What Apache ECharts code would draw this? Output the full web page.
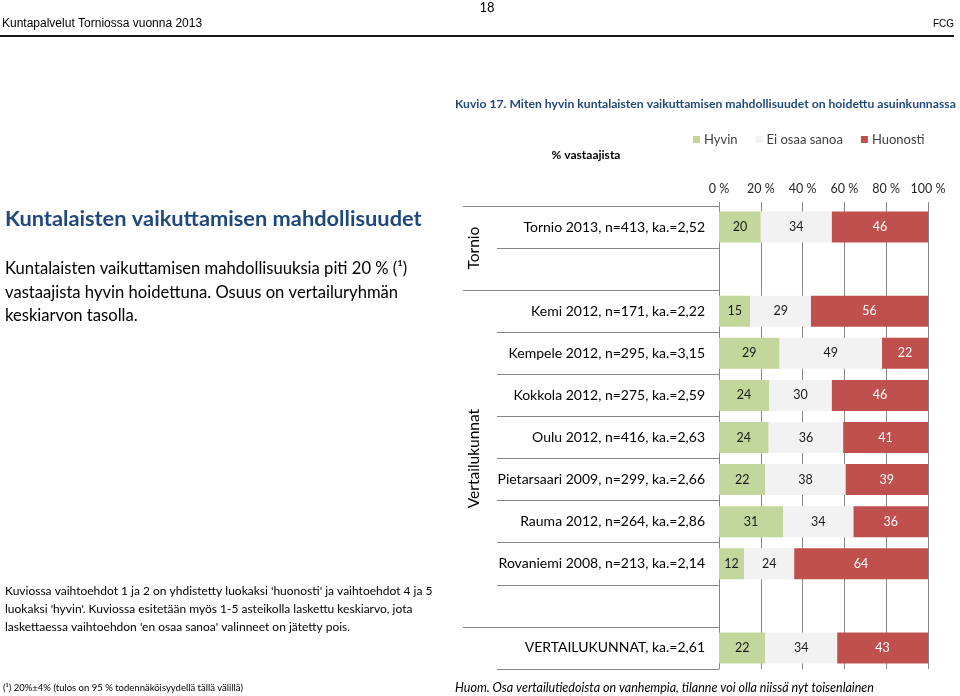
<!DOCTYPE html>
<html>
<head>
<meta charset="utf-8">
<script src="https://cdn.jsdelivr.net/npm/echarts@6/dist/echarts.min.js"></script>
<style>
html,body{margin:0;padding:0;background:#fff;}
#chart{width:960px;height:696px;}
</style>
</head>
<body>
<div id="chart"></div>
<script>
// ---- data ----
const categories = [
  'Tornio 2013, n=413, ka.=2,52', '',
  'Kemi 2012, n=171, ka.=2,22', 'Kempele 2012, n=295, ka.=3,15',
  'Kokkola 2012, n=275, ka.=2,59', 'Oulu 2012, n=416, ka.=2,63',
  'Pietarsaari 2009, n=299, ka.=2,66', 'Rauma 2012, n=264, ka.=2,86',
  'Rovaniemi 2008, n=213, ka.=2,14', ' ', 'VERTAILUKUNNAT, ka.=2,61'
];
const seriesNames = ['Hyvin', 'Ei osaa sanoa', 'Huonosti'];
const hyvin    = [20, null, 15, 29, 24, 24, 22, 31, 12, null, 22];
const eiOsaa   = [34, null, 29, 49, 30, 36, 38, 34, 24, null, 34];
const huonosti = [46, null, 56, 22, 46, 41, 39, 36, 64, null, 43];
const tickLabels = ['0 %', '20 %', '40 %', '60 %', '80 %', '100 %'];
const groups = [
  { name: 'Tornio', start: 0, end: 2 },
  { name: 'Vertailukunnat', start: 2, end: 10 }
];

// ---- build ----
const FONT = 'Lato';
const raw = [hyvin, eiOsaa, huonosti];
const colors = ['#c3d69b', '#f2f2f2', '#c0504d'];
const labelColors = ['#1a1a1a', '#1a1a1a', '#ffffff'];
const totals = categories.map((c, i) => raw.reduce((s, a) => s + (a[i] || 0), 0));

const series = raw.map((arr, k) => ({
  name: seriesNames[k],
  type: 'bar',
  stack: 'all',
  yAxisIndex: 0,
  barWidth: 31,
  itemStyle: { color: colors[k] },
  label: {
    show: true,
    position: 'inside',
    color: labelColors[k],
    fontFamily: FONT,
    fontSize: 12.5,
    formatter: p => p.data && p.data.raw != null ? String(p.data.raw) : ''
  },
  data: arr.map((v, i) => v == null ? { value: null, raw: null } : { value: v / totals[i] * 100, raw: v })
}));

const groupTicks = [];
groups.forEach(g => { groupTicks.push(g.start); groupTicks.push(g.end); });
const groupMid = groups.map(g => (g.start + g.end) / 2);

const option = {
  animation: false,
  backgroundColor: '#ffffff',
  legend: {
    data: seriesNames,
    left: 688,
    top: 128,
    icon: 'rect',
    itemWidth: 7,
    itemHeight: 7,
    itemGap: 18,
    textStyle: { fontFamily: FONT, fontSize: 13, color: '#404040', padding: [0, 0, 0, -1] }
  },
  grid: { left: 719, right: 32, top: 206, bottom: 27, containLabel: false },
  xAxis: {
    type: 'value',
    position: 'top',
    min: 0, max: 100, interval: 20,
    axisLine: { show: false },
    axisTick: { show: true, length: 4, lineStyle: { color: '#868686' } },
    splitLine: { show: true, lineStyle: { color: '#868686', width: 1 } },
    axisLabel: {
      margin: 11,
      fontFamily: FONT, fontSize: 12.5, color: '#262626',
      formatter: v => tickLabels[Math.round(v / 20)]
    }
  },
  yAxis: [
    {
      type: 'category',
      data: categories,
      inverse: true,
      position: 'left',
      axisLine: { show: true, lineStyle: { color: '#868686' } },
      axisTick: { show: true, length: 222, lineStyle: { color: '#868686' } },
      axisLabel: { margin: 14, fontFamily: FONT, fontSize: 14, color: '#000', interval: 0 }
    },
    {
      type: 'value',
      inverse: true,
      min: 0, max: categories.length,
      position: 'left',
      axisLine: { show: false },
      splitLine: { show: false },
      axisTick: { show: true, length: 256, customValues: groupTicks, lineStyle: { color: '#868686' } },
      axisLabel: {
        show: true,
        customValues: groupMid,
        rotate: 90,
        margin: 237,
        fontFamily: FONT, fontSize: 15.5, color: '#000',
        formatter: v => { const g = groups.find(g => (g.start + g.end) / 2 === v); return g ? g.name : ''; }
      }
    }
  ],
  series: series,
  graphic: [
    { type: 'text', x: 487, y: 8, style: { text: '18', fontFamily: FONT, fontSize: 13, fill: '#000', align: 'center', verticalAlign: 'middle' } },
    { type: 'text', x: 2, y: 24, style: { text: 'Kuntapalvelut Torniossa vuonna 2013', fontFamily: 'Liberation Sans Narrow, Arial Narrow, sans-serif', fontSize: 12, fill: '#000', verticalAlign: 'middle' } },
    { type: 'text', x: 954, y: 24, style: { text: 'FCG', fontFamily: 'Liberation Sans Narrow, Arial Narrow, sans-serif', fontSize: 10, fill: '#000', align: 'right', verticalAlign: 'middle' } },
    { type: 'line', shape: { x1: 0, y1: 36, x2: 954, y2: 36 }, style: { stroke: '#1a1a1a', lineWidth: 2 } },
    { type: 'text', x: 455, y: 104, style: { text: 'Kuvio 17. Miten hyvin kuntalaisten vaikuttamisen mahdollisuudet on hoidettu asuinkunnassa', fontFamily: FONT, fontWeight: 'bold', fontSize: 12.2, fill: '#1f497d', verticalAlign: 'middle' } },
    { type: 'text', x: 586, y: 155, style: { text: '% vastaajista', fontFamily: FONT, fontWeight: 'bold', fontSize: 12, fill: '#000', align: 'center', verticalAlign: 'middle' } },
    { type: 'text', x: 5, y: 219, style: { text: 'Kuntalaisten vaikuttamisen mahdollisuudet', fontFamily: FONT, fontWeight: 'bold', fontSize: 21.8, fill: '#1f497d', verticalAlign: 'middle' } },
    { type: 'text', x: 5, y: 257, style: { text: 'Kuntalaisten vaikuttamisen mahdollisuuksia piti 20 % (\u00b9)\nvastaajista hyvin hoidettuna. Osuus on vertailuryhmän\nkeskiarvon tasolla.', fontFamily: FONT, fontSize: 16.6, lineHeight: 23.5, fill: '#000', verticalAlign: 'top' } },
    { type: 'text', x: 5, y: 582, style: { text: "Kuviossa vaihtoehdot 1 ja 2 on yhdistetty luokaksi 'huonosti' ja vaihtoehdot 4 ja 5\nluokaksi 'hyvin'. Kuviossa esitetään myös 1-5 asteikolla laskettu keskiarvo, jota\nlaskettaessa vaihtoehdon 'en osaa sanoa' valinneet on jätetty pois.", fontFamily: FONT, fontSize: 12, lineHeight: 18, fill: '#000', verticalAlign: 'top' } },
    { type: 'text', x: 3, y: 688, style: { text: '(\u00b9) 20%±4% (tulos on 95 % todennäköisyydellä tällä välillä)', fontFamily: FONT, fontSize: 9.5, fill: '#000', verticalAlign: 'middle' } },
    { type: 'text', x: 455, y: 688, style: { text: 'Huom. Osa vertailutiedoista on vanhempia, tilanne voi olla niissä nyt toisenlainen', fontFamily: FONT, fontStyle: 'italic', fontSize: 12.5, fill: '#000', verticalAlign: 'middle' } }
  ]
};

const chart = echarts.init(document.getElementById('chart'), null, { renderer: 'canvas' });
chart.setOption(option);
</script>
</body>
</html>
